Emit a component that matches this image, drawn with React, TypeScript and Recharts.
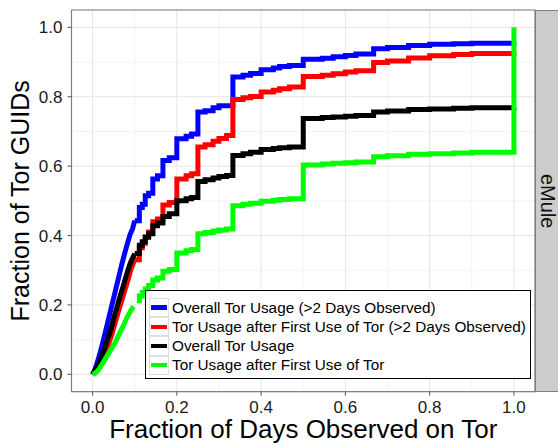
import {
  LineChart,
  Line,
  XAxis,
  YAxis,
  CartesianGrid,
  Legend,
  ReferenceArea,
} from "recharts"

type Pt = [number, number]

const FONT = '"Liberation Sans", Arial, Helvetica, sans-serif'

const xTicks = [0, 0.2, 0.4, 0.6, 0.8, 1.0]
const yTicks = [0, 0.2, 0.4, 0.6, 0.8, 1.0]
const minorTicks = [0.1, 0.3, 0.5, 0.7, 0.9]

const xTitle = "Fraction of Days Observed on Tor"
const yTitle = "Fraction of Tor GUIDs"
const facetLabel = "eMule"

const seriesNames = [
  "Overall Tor Usage (>2 Days Observed)",
  "Tor Usage after First Use of Tor (>2 Days Observed)",
  "Overall Tor Usage",
  "Tor Usage after First Use of Tor",
]
const seriesColors = ["#0000ff", "#ff0000", "#000000", "#00ff00"]

// below this fraction the ECDF is dense enough to look smooth
const SMOOTH_UNTIL = 0.1

// each point: [fraction of days, cumulative fraction of GUIDs]
const overallLong: Pt[] = [
  [0, 0], [0.005, 0.012], [0.01, 0.03], [0.015, 0.05], [0.02, 0.072],
  [0.025, 0.096], [0.03, 0.12], [0.035, 0.145], [0.04, 0.17], [0.045, 0.195],
  [0.05, 0.22], [0.055, 0.245], [0.06, 0.27], [0.066, 0.3], [0.071, 0.325],
  [0.077, 0.352], [0.083, 0.378], [0.089, 0.403], [0.095, 0.42], [0.1, 0.443],
  [0.111, 0.481], [0.118, 0.49], [0.125, 0.515], [0.133, 0.522], [0.143, 0.563],
  [0.154, 0.572], [0.167, 0.616], [0.182, 0.624], [0.2, 0.679], [0.222, 0.686],
  [0.235, 0.693], [0.25, 0.756], [0.267, 0.76], [0.286, 0.768], [0.3, 0.774],
  [0.333, 0.857], [0.357, 0.862], [0.375, 0.867], [0.4, 0.878], [0.429, 0.883],
  [0.444, 0.887], [0.467, 0.89], [0.5, 0.908], [0.545, 0.911], [0.571, 0.915],
  [0.6, 0.919], [0.625, 0.923], [0.667, 0.938], [0.7, 0.942], [0.75, 0.948],
  [0.8, 0.951], [0.857, 0.953], [0.9, 0.954], [1, 0.955],
]

const afterFirstLong: Pt[] = [
  [0, 0], [0.01, 0.01], [0.015, 0.022], [0.02, 0.034], [0.025, 0.048],
  [0.03, 0.062], [0.035, 0.078], [0.04, 0.094], [0.046, 0.116], [0.051, 0.138],
  [0.057, 0.162], [0.063, 0.188], [0.069, 0.212], [0.075, 0.236], [0.081, 0.26],
  [0.087, 0.285], [0.092, 0.306], [0.1, 0.33], [0.111, 0.365], [0.118, 0.378],
  [0.125, 0.395], [0.133, 0.41], [0.143, 0.44], [0.154, 0.448], [0.167, 0.488],
  [0.182, 0.495], [0.2, 0.563], [0.222, 0.572], [0.235, 0.578], [0.25, 0.655],
  [0.267, 0.662], [0.286, 0.672], [0.3, 0.68], [0.318, 0.688], [0.333, 0.792],
  [0.357, 0.797], [0.375, 0.801], [0.4, 0.814], [0.429, 0.819], [0.444, 0.823],
  [0.467, 0.828], [0.5, 0.858], [0.545, 0.862], [0.571, 0.866], [0.6, 0.871],
  [0.625, 0.875], [0.667, 0.899], [0.7, 0.903], [0.75, 0.912], [0.8, 0.918],
  [0.857, 0.922], [0.9, 0.925], [1, 0.929],
]

const overallAll: Pt[] = [
  [0, 0], [0.005, 0.01], [0.01, 0.02], [0.015, 0.03], [0.018, 0.04],
  [0.024, 0.06], [0.03, 0.08], [0.035, 0.1], [0.04, 0.116], [0.046, 0.14],
  [0.051, 0.165], [0.057, 0.19], [0.062, 0.212], [0.068, 0.236], [0.074, 0.26],
  [0.08, 0.285], [0.085, 0.305], [0.091, 0.325], [0.1, 0.348], [0.111, 0.372],
  [0.118, 0.382], [0.125, 0.396], [0.133, 0.405], [0.143, 0.428], [0.154, 0.436],
  [0.167, 0.455], [0.182, 0.463], [0.2, 0.5], [0.222, 0.506], [0.235, 0.51],
  [0.25, 0.556], [0.267, 0.561], [0.286, 0.566], [0.3, 0.57], [0.318, 0.573],
  [0.333, 0.631], [0.357, 0.636], [0.375, 0.64], [0.4, 0.648], [0.429, 0.651],
  [0.444, 0.653], [0.467, 0.655], [0.5, 0.737], [0.545, 0.74], [0.571, 0.742],
  [0.6, 0.744], [0.625, 0.746], [0.667, 0.756], [0.7, 0.759], [0.75, 0.763],
  [0.8, 0.765], [0.857, 0.767], [0.9, 0.768], [1, 0.77],
]

const afterFirstAll: Pt[] = [
  [0, 0], [0.006, 0.003], [0.012, 0.01], [0.018, 0.02], [0.024, 0.032],
  [0.03, 0.044], [0.036, 0.056], [0.042, 0.068], [0.048, 0.08], [0.055, 0.095],
  [0.062, 0.113], [0.068, 0.128], [0.075, 0.145], [0.081, 0.162], [0.089, 0.18],
  [0.097, 0.196], [0.105, 0.212], [0.111, 0.226], [0.118, 0.236], [0.125, 0.246],
  [0.133, 0.256], [0.143, 0.272], [0.154, 0.278], [0.167, 0.297], [0.182, 0.302],
  [0.2, 0.35], [0.222, 0.356], [0.235, 0.36], [0.25, 0.405], [0.267, 0.409],
  [0.286, 0.413], [0.3, 0.416], [0.318, 0.419], [0.333, 0.486], [0.357, 0.49],
  [0.375, 0.493], [0.4, 0.499], [0.429, 0.502], [0.444, 0.504], [0.467, 0.506],
  [0.5, 0.603], [0.545, 0.606], [0.571, 0.608], [0.6, 0.61], [0.625, 0.612],
  [0.667, 0.627], [0.7, 0.63], [0.75, 0.634], [0.8, 0.636], [0.857, 0.638],
  [0.9, 0.64], [1, 1],
]

const seriesPoints = [overallLong, afterFirstLong, overallAll, afterFirstAll]

const toRows = (pts: Pt[]) => pts.map(([x, y]) => ({ x, y }))

const renderLegend = (props: any) => {
  const items = (props.payload || [])
    .filter((e: any) => seriesNames.includes(e.value) && e.type !== "none")
    .sort((a: any, b: any) => seriesNames.indexOf(a.value) - seriesNames.indexOf(b.value))
  return (
    <div
      style={{
        border: "1px solid #000",
        background: "#fff",
        padding: "7px 0 3px 3px",
        boxSizing: "border-box",
        width: 386,
        height: 89,
      }}
    >
      {items.map((entry: any) => (
        <div
          key={entry.value}
          style={{ display: "flex", alignItems: "center", height: 19.2 }}
        >
          <span
            style={{
              width: 20,
              height: 19.2,
              border: "1px solid #dedede",
              boxSizing: "border-box",
              display: "flex",
              alignItems: "center",
              justifyContent: "center",
              marginRight: 3,
            }}
          >
            <span style={{ width: 16, height: 4.5, background: entry.color }} />
          </span>
          <span style={{ fontSize: 15.3, color: "#000", whiteSpace: "nowrap" }}>
            {entry.value}
          </span>
        </div>
      ))}
    </div>
  )
}

export default function App() {
  const tickStyle = { fontSize: 17, fill: "#1a1a1a" }
  return (
    <div
      style={{
        position: "absolute",
        left: 0,
        top: 0,
        width: 558,
        height: 443,
        background: "#fff",
        fontFamily: FONT,
      }}
    >
      <LineChart
        width={558}
        height={443}
        margin={{ top: 10, right: 23, bottom: 0, left: 0 }}
      >
        <CartesianGrid
          stroke="#f3f3f3"
          horizontalValues={minorTicks}
          verticalValues={minorTicks}
        />
        <CartesianGrid stroke="#e5e5e5" />
        <XAxis
          dataKey="x"
          type="number"
          domain={[-0.05, 1.05]}
          ticks={xTicks}
          allowDataOverflow
          tickFormatter={(v: number) => v.toFixed(1)}
          tick={tickStyle}
          tickLine={{ stroke: "#555" }}
          tickSize={4}
          tickMargin={5}
          axisLine={false}
          height={51.3}
          label={{
            value: xTitle,
            position: "insideBottom",
            offset: 5,
            fontSize: 26,
            fill: "#000",
          }}
        />
        <YAxis
          type="number"
          domain={[-0.05, 1.05]}
          ticks={yTicks}
          allowDataOverflow
          tickFormatter={(v: number) => v.toFixed(1)}
          tick={tickStyle}
          tickLine={{ stroke: "#555" }}
          tickSize={4}
          tickMargin={5}
          axisLine={false}
          width={71.5}
          label={{
            value: yTitle,
            angle: -90,
            position: "insideLeft",
            offset: 20,
            fontSize: 25,
            fill: "#000",
            style: { textAnchor: "middle" },
          }}
        />
        <ReferenceArea
          x1={-0.05}
          x2={1.05}
          y1={-0.05}
          y2={1.05}
          fill="none"
          stroke="#7f7f7f"
          strokeWidth={1.2}
        />
        {seriesPoints.flatMap((pts, i) => [
          <Line
            key={seriesNames[i] + "-head"}
            data={toRows(pts.filter(([x]) => x <= SMOOTH_UNTIL))}
            dataKey="y"
            name={seriesNames[i] + " "}
            legendType="none"
            type="linear"
            stroke={seriesColors[i]}
            strokeWidth={5}
            dot={false}
            activeDot={false}
            isAnimationActive={false}
          />,
          <Line
            key={seriesNames[i]}
            data={toRows(pts.filter(([x]) => x >= SMOOTH_UNTIL))}
            dataKey="y"
            name={seriesNames[i]}
            type="stepAfter"
            stroke={seriesColors[i]}
            strokeWidth={5}
            dot={false}
            activeDot={false}
            isAnimationActive={false}
          />,
        ])}
        <Legend
          layout="vertical"
          align="center"
          verticalAlign="middle"
          content={renderLegend}
          wrapperStyle={{ left: 145, top: 290, width: 386, height: 89 }}
        />
      </LineChart>
      <div
        style={{
          position: "absolute",
          left: 535,
          top: 10,
          width: 23,
          height: 382,
          background: "#cccccc",
          borderLeft: "1px solid #7f7f7f",
          borderTop: "1px solid #7f7f7f",
          borderBottom: "1px solid #7f7f7f",
          boxSizing: "border-box",
          display: "flex",
          alignItems: "center",
          justifyContent: "center",
        }}
      >
        <span
          style={{
            writingMode: "vertical-rl",
            fontSize: 20,
            color: "#111",
          }}
        >
          {facetLabel}
        </span>
      </div>
    </div>
  )
}
